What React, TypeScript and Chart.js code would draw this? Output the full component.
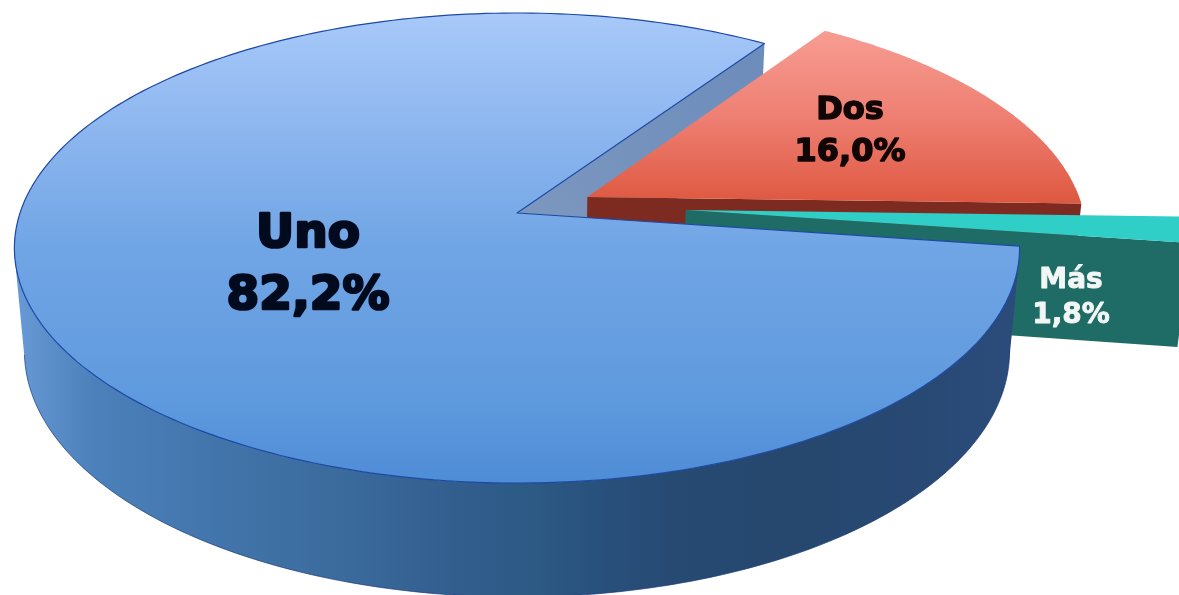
import React, { useEffect, useRef } from "react";
import { Chart, registerables } from "chart.js";

Chart.register(...registerables);

const categories = ["Uno", "Dos", "Más"];
const shares = [82.2, 16.0, 1.8];

// Perspective of the pie's plane
const CX = 517, CY = 213, AX = 497, AY = 229.8, K = 0.149, M = 0.02, N = 104.7;
// How far each slice is pulled out of the pie, in pie radii
const PULL = [[0, 0], [0.143, 0.0704], [0.34, 0.013]];
const LABEL_LAYOUT = [
  { x: 308, y: [235, 297], size: 47, color: "#020a1e", stroke: 2.6 },
  { x: 850, y: [111, 153], size: 32, color: "#120505", stroke: 1.5 },
  { x: 1071, y: [281, 316], size: 28, color: "#f2f6f5", stroke: 0.9 },
];

function proj(u: number, v: number, d: number): [number, number] {
  const den = 1 + K * v + M * d;
  return [CX + (AX * u) / den, CY + (-AY * v + N * d) / den];
}

function linear(ctx: CanvasRenderingContext2D, x0: number, y0: number, x1: number, y1: number, stops: [number, string][]) {
  const g = ctx.createLinearGradient(x0, y0, x1, y1);
  stops.forEach(([p, c]) => g.addColorStop(p, c));
  return g;
}

function signedArea(pts: [number, number][]) {
  let a = 0;
  pts.forEach((p, i) => {
    const q = pts[(i + 1) % pts.length];
    a += p[0] * q[1] - q[0] * p[1];
  });
  return a;
}

const pie3d = {
  id: "pie3d",
  beforeDatasetDraw(chart: any) {
    const ctx: CanvasRenderingContext2D = chart.ctx;
    const arcs = chart.getDatasetMeta(0).data;

    const geom = arcs.map((a: any, i: number) => {
      const [ox, oy] = PULL[i];
      const at = (ang: number, d: number) => proj(ox + Math.cos(ang), oy - Math.sin(ang), d);
      const apex = (d: number) => proj(ox, oy, d);
      return { s: a.startAngle, e: a.endAngle, at, apex };
    });

    const addPoly = (pts: [number, number][]) => {
      pts.forEach((p, i) => (i ? ctx.lineTo(p[0], p[1]) : ctx.moveTo(p[0], p[1])));
      ctx.closePath();
    };
    const poly = (pts: [number, number][]) => {
      ctx.beginPath();
      addPoly(pts);
    };
    const arcPts = (g: any, d: number, n = 240) => {
      const out: [number, number][] = [];
      for (let i = 0; i <= n; i++) out.push(g.at(g.s + ((g.e - g.s) * i) / n, d));
      return out;
    };
    const topFace = (g: any) => [g.apex(0), ...arcPts(g, 0)] as [number, number][];
    const cutFace = (g: any, ang: number) =>
      [g.apex(0), g.at(ang, 0), g.at(ang, 1), g.apex(1)] as [number, number][];

    const [uno, dos, mas] = geom;

    ctx.save();
    ctx.lineJoin = "round";

    // Uno: the cut face seen through the gap
    poly(cutFace(uno, uno.e));
    ctx.fillStyle = linear(ctx, 517, 213, 765, 43, [[0, "#7c97bf"], [1, "#6c8cbb"]]);
    ctx.fill();

    // Dos
    poly(cutFace(dos, dos.e));
    ctx.fillStyle = "#7d2a20";
    ctx.fill();
    poly(topFace(dos));
    ctx.fillStyle = linear(ctx, 0, 32, 0, 203, [[0, "#f79c92"], [0.5, "#ee7f72"], [1, "#de5840"]]);
    ctx.fill();

    // Más
    poly(cutFace(mas, mas.e));
    ctx.fillStyle = "#1f6b66";
    ctx.fill();
    poly(topFace(mas));
    ctx.fillStyle = "#2fcfc8";
    ctx.fill();

    // Uno: wall, one path so no seams appear between the facets
    const wall = linear(ctx, 15, 0, 1015, 0, [
      [0, "#679ad6"],
      [0.08, "#4c80ba"],
      [0.2, "#4275ab"],
      [0.3, "#3d6da0"],
      [0.44, "#325e8e"],
      [0.52, "#2d5985"],
      [0.58, "#29517d"],
      [0.66, "#264a72"],
      [0.8, "#26476e"],
      [1, "#2b4b7a"],
    ]);
    const n = 360;
    ctx.beginPath();
    for (let i = 0; i < n; i++) {
      const a0 = uno.s + ((uno.e - uno.s) * i) / n;
      const a1 = uno.s + ((uno.e - uno.s) * (i + 1)) / n;
      if (Math.sin(a0) < -0.1) continue;
      const quad: [number, number][] = [uno.at(a0, 0), uno.at(a1, 0), uno.at(a1, 1), uno.at(a0, 1)];
      addPoly(signedArea(quad) < 0 ? quad.reverse() : quad);
    }
    ctx.fillStyle = wall;
    ctx.fill("nonzero");

    // Uno: lower rim of the wall
    const rim = arcPts(uno, 1).filter((_, i) => Math.sin(uno.s + ((uno.e - uno.s) * i) / 240) > 0.14);
    ctx.beginPath();
    rim.forEach((p, i) => (i ? ctx.lineTo(p[0], p[1]) : ctx.moveTo(p[0], p[1])));
    ctx.strokeStyle = "rgba(26,58,122,0.7)";
    ctx.lineWidth = 1;
    ctx.stroke();

    // Uno: top
    poly(topFace(uno));
    ctx.fillStyle = linear(ctx, 0, 13, 0, 483, [
      [0, "#a8c9f9"],
      [0.25, "#8db6ef"],
      [0.5, "#70a5e5"],
      [0.82, "#5f9ade"],
      [1, "#4e8cd6"],
    ]);
    ctx.fill();
    ctx.strokeStyle = "#1c49a6";
    ctx.lineWidth = 1.2;
    ctx.stroke();

    // Labels
    ctx.textAlign = "center";
    ctx.textBaseline = "middle";
    categories.forEach((name, i) => {
      const l = LABEL_LAYOUT[i];
      const pct = shares[i].toFixed(1).replace(".", ",") + "%";
      ctx.font = `bold ${l.size}px "DejaVu Sans"`;
      ctx.fillStyle = l.color;
      ctx.strokeStyle = l.color;
      ctx.lineWidth = l.stroke;
      [name, pct].forEach((t, j) => {
        ctx.strokeText(t, l.x, l.y[j]);
        ctx.fillText(t, l.x, l.y[j]);
      });
    });

    ctx.restore();
    return false;
  },
};

export default function App() {
  const ref = useRef<HTMLCanvasElement>(null);
  useEffect(() => {
    document.body.style.margin = "0";
    const chart = new Chart(ref.current!, {
      type: "pie",
      data: {
        labels: categories,
        datasets: [{ data: shares, backgroundColor: ["#70a5e5", "#ee7f72", "#2fcfc8"], borderWidth: 0 }],
      },
      options: {
        animation: false,
        responsive: false,
        rotation: 98.1,
        layout: { padding: 0 },
        plugins: { legend: { display: false }, tooltip: { enabled: false } },
      },
      plugins: [pie3d],
    } as any);
    return () => chart.destroy();
  }, []);
  return (
    <div style={{ position: "fixed", left: 0, top: 0, width: 1179, height: 595, background: "#fff", overflow: "hidden" }}>
      <canvas ref={ref} width={1179} height={595} style={{ display: "block", width: 1179, height: 595 }} />
    </div>
  );
}
